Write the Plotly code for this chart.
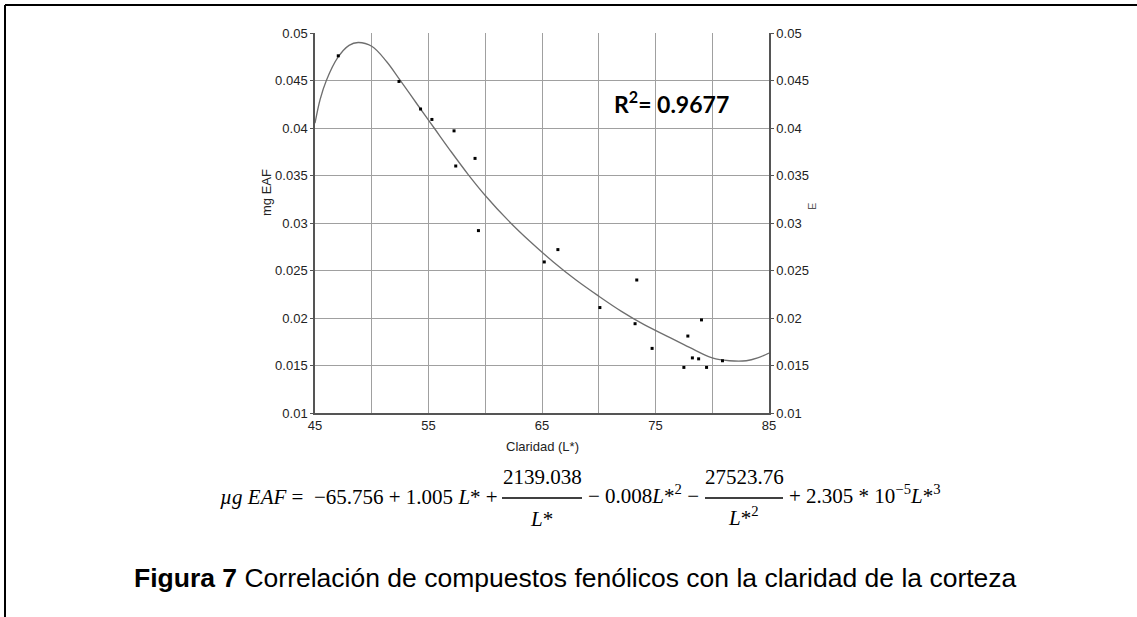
import plotly.graph_objects as go

# ---- data ----
claridad = [47.05, 52.4, 54.3, 55.3, 57.25, 57.4, 59.1, 59.4, 65.2, 66.4, 70.1, 73.2, 73.35,
            74.7, 77.5, 77.85, 78.25, 78.8, 79.05, 79.5, 80.9]
mg_eaf = [0.0476, 0.0449, 0.0420, 0.0409, 0.0397, 0.0360, 0.0368, 0.0292, 0.0259, 0.0272,
          0.0211, 0.0194, 0.0240, 0.0168, 0.0148, 0.0181, 0.0158, 0.0157, 0.0198, 0.0148, 0.0155]

curve_L = [45, 45.45, 46, 47, 48, 48.8, 50, 51.3, 52.4, 54, 55.5, 57, 58.5, 60, 62, 64, 66,
           68, 70, 72, 74, 76, 78, 80, 81.5, 83, 84, 85]
curve_v = [0.0405, 0.0430, 0.0450, 0.0474, 0.0487, 0.0490, 0.0486, 0.0470, 0.0452, 0.0425,
           0.0400, 0.0375, 0.0351, 0.0329, 0.0303, 0.0280, 0.0259, 0.0240, 0.0223, 0.0207,
           0.0193, 0.0181, 0.0169, 0.0158, 0.0155, 0.0155, 0.0158, 0.0163]

x_grid = [45, 50, 55, 60, 65, 70, 75, 80, 85]
x_labels = ["45", "", "55", "", "65", "", "75", "", "85"]
y_ticks = [0.01, 0.015, 0.02, 0.025, 0.03, 0.035, 0.04, 0.045, 0.05]
y_labels = ["0.01", "0.015", "0.02", "0.025", "0.03", "0.035", "0.04", "0.045", "0.05"]

r2_text = "<b>R<sup>2</sup>= 0.9677</b>"
x_title = "Claridad (L*)"
y_title = "mg EAF"
caption = "<b>Figura 7</b> Correlación de compuestos fenólicos con la claridad de la corteza"

# ---- layout geometry (pixels) ----
W, H = 1137, 617
PL, PR, PT, PB = 315, 769, 33, 413


def px(x):
    return (x - PL) / (PR - PL)


def py(y):
    return (PB - y) / (PB - PT)


fig = go.Figure()
fig.add_trace(go.Scatter(x=curve_L, y=curve_v, mode="lines",
                         line=dict(color="#6e6e6e", width=1.3, shape="spline", smoothing=1.0),
                         hoverinfo="skip", showlegend=False))
fig.add_trace(go.Scatter(x=claridad, y=mg_eaf, mode="markers",
                         marker=dict(color="black", size=3, symbol="square"),
                         showlegend=False))
fig.add_trace(go.Scatter(x=[85], y=[0.01], yaxis="y2", mode="markers",
                         marker=dict(opacity=0), hoverinfo="skip", showlegend=False))

font_ax = dict(family="Liberation Sans, Arial", size=13, color="#222")
fig.update_layout(
    width=W, height=H,
    margin=dict(l=PL, r=W - PR, t=PT, b=H - PB),
    paper_bgcolor="white", plot_bgcolor="white",
    xaxis=dict(range=[45, 85], tickvals=x_grid, ticktext=x_labels,
               showgrid=True, gridcolor="#a0a0a0", gridwidth=1,
               showline=True, linecolor="#555", linewidth=1.5,
               ticks="", ticklabelstandoff=0,
               tickfont=font_ax, zeroline=False),
    yaxis=dict(range=[0.01, 0.05], tickvals=y_ticks, ticktext=y_labels,
               showgrid=True, gridcolor="#a0a0a0", gridwidth=1,
               showline=True, linecolor="#555", linewidth=1.5,
               ticks="outside", ticklen=3, tickcolor="#555",
               tickfont=font_ax, zeroline=False),
    yaxis2=dict(range=[0.01, 0.05], tickvals=y_ticks, ticktext=y_labels,
                overlaying="y", side="right", showgrid=False,
                showline=True, linecolor="#555", linewidth=1.5,
                ticks="outside", ticklen=3, tickcolor="#555",
                tickfont=font_ax, zeroline=False),
)

# white box behind R^2
fig.add_shape(type="rect", xref="paper", yref="paper",
              x0=px(594), x1=px(747), y0=py(137), y1=py(77),
              fillcolor="white", line=dict(width=0), layer="between")

# figure border (top and left)
fig.add_shape(type="line", xref="paper", yref="paper",
              x0=px(5), x1=px(W + 5), y0=py(5), y1=py(5), line=dict(color="black", width=2))
fig.add_shape(type="line", xref="paper", yref="paper",
              x0=px(5), x1=px(5), y0=py(5), y1=py(H + 5), line=dict(color="black", width=2))

ann = []


def add_text(text, x, y, font, xanchor="center", angle=0):
    ann.append(dict(text=text, x=px(x), y=py(y), xref="paper", yref="paper",
                    xanchor=xanchor, yanchor="middle", textangle=angle,
                    showarrow=False, font=font))


add_text(r2_text, 671, 102, dict(family="Lato", size=23, color="black"))
add_text(x_title, 542, 446, font_ax)
add_text(y_title, 266, 193, font_ax, angle=-90)
add_text("E", 812, 207, dict(family="Liberation Sans", size=11, color="#555"), angle=-90)

# equation
eq_font = dict(family="Liberation Serif, Times New Roman", size=21, color="black")
EQ_MAIN, EQ_NUM, EQ_DEN, EQ_BAR = 497, 477, 519, 498
add_text("<i>µg EAF</i> =  −65.756 + 1.005 <i>L</i>* +", 500, EQ_MAIN, eq_font, xanchor="right")
add_text("2139.038", 542, EQ_NUM, eq_font)
add_text("<i>L</i>*", 541, EQ_DEN, eq_font)
add_text("− 0.008<i>L</i>*<sup>2</sup> −", 586, EQ_MAIN - 3, eq_font, xanchor="left")
add_text("27523.76", 744, EQ_NUM, eq_font)
add_text("<i>L</i>*<sup>2</sup>", 743, EQ_DEN - 3, eq_font)
add_text("+ 2.305 * 10<sup>−5</sup><i>L</i>*<sup>3</sup>", 787, EQ_MAIN - 3, eq_font, xanchor="left")
fig.add_shape(type="line", xref="paper", yref="paper", x0=px(502), x1=px(582),
              y0=py(EQ_BAR), y1=py(EQ_BAR), line=dict(color="black", width=1.3))
fig.add_shape(type="line", xref="paper", yref="paper", x0=px(705), x1=px(783),
              y0=py(EQ_BAR), y1=py(EQ_BAR), line=dict(color="black", width=1.3))

add_text(caption, 575, 578, dict(family="Liberation Sans, Arial", size=26.5, color="black"))

fig.update_layout(annotations=ann)
fig.write_html("out.html", config={"displayModeBar": False},
               post_script="document.body.style.margin='0px';document.body.style.overflow='hidden';")
